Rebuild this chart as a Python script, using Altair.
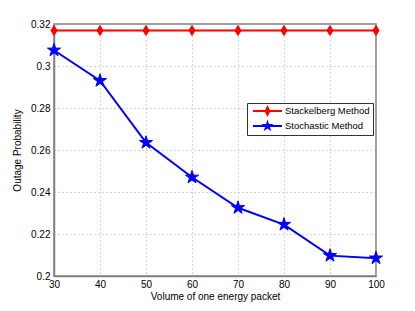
import altair as alt
import pandas as pd

volume = [30, 40, 50, 60, 70, 80, 90, 100]
stackelberg = [0.3169, 0.3169, 0.3169, 0.3169, 0.3169, 0.3169, 0.3169, 0.3169]
stochastic = [0.3075, 0.2930, 0.2635, 0.2470, 0.2325, 0.2245, 0.2097, 0.2085]
series_names = ["Stackelberg Method", "Stochastic Method"]
series_colors = ["#ff0000", "#0000ff"]
y_ticks = [0.2, 0.22, 0.24, 0.26, 0.28, 0.3, 0.32]

rows = []
for v, s in zip(volume, stackelberg):
    rows.append({"volume": v, "prob": s, "series": series_names[0]})
for v, s in zip(volume, stochastic):
    rows.append({"volume": v, "prob": s, "series": series_names[1]})
df = pd.DataFrame(rows)

DIAMOND = "M0,-1L0.6,0L0,1L-0.6,0Z"
STAR = ("M0,-1L0.223,-0.307L0.951,-0.309L0.361,0.117L0.588,0.809L0,0.38"
        "L-0.588,0.809L-0.361,0.117L-0.951,-0.309L-0.223,-0.307Z")
LEG_DIAMOND = "M-0.4,-0.2L5.4,-0.2L5.4,0.2L-0.4,0.2ZM2.5,-1.2L3.1,0L2.5,1.2L1.9,0Z"
LEG_STAR = ("M-0.4,-0.2L5.4,-0.2L5.4,0.2L-0.4,0.2Z"
            "M2.5,-1.3L2.79,-0.4L3.736,-0.402L2.97,0.153L3.264,1.052L2.5,0.494"
            "L1.736,1.052L2.03,0.153L1.264,-0.402L2.21,-0.4Z")

x_enc = alt.X("volume:Q", scale=alt.Scale(domain=[30, 100], nice=False),
              axis=alt.Axis(values=volume, title="Volume of one energy packet",
                            titlePadding=2, labelPadding=3, labelFlush=False))
y_enc = alt.Y("prob:Q", scale=alt.Scale(domain=[0.2, 0.32], nice=False, zero=False),
              axis=alt.Axis(values=y_ticks, format=".2~f", title="Outage Probability",
                            titlePadding=8, labelPadding=4, labelFlush=False))

base = alt.Chart(df)
layers = []
for name, col, shp, sz in zip(series_names, series_colors, [DIAMOND, STAR], [100, 190]):
    sub = base.transform_filter(alt.datum.series == name)
    layers.append(sub.mark_line(strokeWidth=2, color=col).encode(x=x_enc, y=y_enc))
    layers.append(sub.mark_point(shape=shp, filled=True, size=sz, color=col, opacity=1,
                                 stroke=col, strokeWidth=1).encode(x=x_enc, y=y_enc))

leg = alt.Legend(title=None, orient="none", legendX=193, legendY=79,
                 symbolSize=100, symbolOpacity=1, symbolStrokeWidth=0)
legend_layer = base.mark_point(filled=True, opacity=0, size=100).encode(
    x=x_enc, y=y_enc,
    color=alt.Color("series:N", scale=alt.Scale(domain=series_names, range=series_colors),
                    legend=leg),
    shape=alt.Shape("series:N", scale=alt.Scale(domain=series_names,
                                                range=[LEG_DIAMOND, LEG_STAR]),
                    legend=leg),
)
layers.append(legend_layer)

chart = alt.layer(*layers).properties(
    width=322, height=252,
    autosize=alt.AutoSizeParams(type="none"),
    padding={"left": 46, "top": 16, "right": 20, "bottom": 30},
    background="#ffffff",
).configure_view(
    stroke="#808080", strokeWidth=1.5
).configure_axis(
    labelFont="Liberation Sans", titleFont="Liberation Sans",
    labelFontSize=10, titleFontSize=10, labelColor="#000", titleColor="#000",
    titleFontWeight="normal",
    grid=True, gridColor="#aaaaaa", gridDash=[1, 3], gridWidth=1,
    domainColor="#808080", domainWidth=1.5, ticks=False, tickSize=0,
).configure_legend(
    labelFont="Liberation Sans", labelFontSize=9.5, labelColor="#000",
    strokeColor="#333", fillColor="#ffffff", padding=3, rowPadding=2,
    symbolOffset=0, labelOffset=25, cornerRadius=0,
)

chart.save("out.html", embed_options={"renderer": "svg", "actions": False})
